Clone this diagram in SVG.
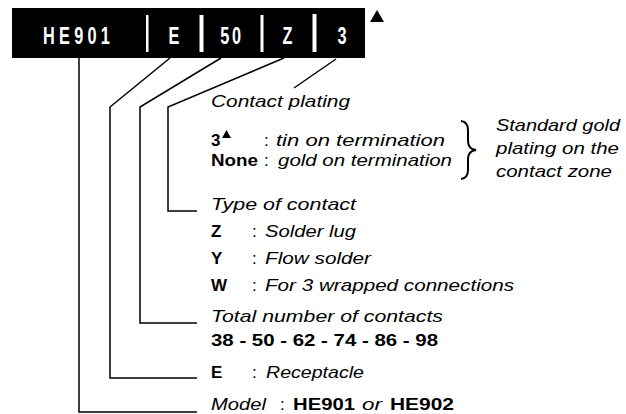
<svg xmlns="http://www.w3.org/2000/svg" width="626" height="414" viewBox="0 0 626 414">
<style>
.t{font-family:"Liberation Sans",Arial,sans-serif;font-size:17px;fill:#000}
.i{font-style:italic}
.b{font-weight:bold}
.bar{font-family:"Liberation Sans",Arial,sans-serif;font-weight:bold;font-size:24px;fill:#fff}
.ln{fill:none;stroke:#000;stroke-width:1.5}
.sep{fill:#fff}
</style>
<rect width="626" height="414" fill="#fff"/>
<g id="code">
  <rect x="12" y="8" width="353" height="50" fill="#000"/>
  <rect class="sep" x="146" y="15" width="2.5" height="37"/>
  <rect class="sep" x="199.5" y="15" width="4" height="37"/>
  <rect class="sep" x="260.5" y="15" width="3" height="37"/>
  <rect class="sep" x="312.5" y="14" width="4" height="38"/>
  <g transform="scale(0.68,1)">
    <text class="bar" x="63.2" y="44.5" textLength="98.5" lengthAdjust="spacing">HE901</text>
    <text class="bar" x="255.9" y="44.5" text-anchor="middle">E</text>
    <text class="bar" x="341.2" y="44.5" text-anchor="middle" letter-spacing="4">50</text>
    <text class="bar" x="422.8" y="44.5" text-anchor="middle">Z</text>
    <text class="bar" x="502.9" y="44.5" text-anchor="middle">3</text>
  </g>
  <polygon points="370,22 384,22 377,10" fill="#000"/>
</g>
<g id="connectors">
  <path class="ln" d="M79,58 V412 H197"/>
  <path class="ln" d="M170,58 L110,107 V378 H197"/>
  <path class="ln" d="M221,58 L140,107 V323 H197"/>
  <path class="ln" d="M284,58 L168,107 V211 H197"/>
  <path class="ln" d="M336,59 L294,88"/>
</g>
<g id="plating">
  <text class="t i" x="211" y="107" textLength="139" lengthAdjust="spacingAndGlyphs">Contact plating</text>
  <text class="t b" x="211" y="146">3</text>
  <polygon points="222,138 231,138 226.5,130" fill="#000"/>
  <text class="t" x="264" y="146">:</text>
  <text class="t i" x="276" y="146" textLength="169" lengthAdjust="spacingAndGlyphs">tin on termination</text>
  <text class="t b" x="211" y="166" textLength="47" lengthAdjust="spacingAndGlyphs">None</text>
  <text class="t" x="264" y="166">:</text>
  <text class="t i" x="278" y="166" textLength="174" lengthAdjust="spacingAndGlyphs">gold on termination</text>
  <path d="M461,121 Q468,122 468,130 V141 Q468,149 476,150 Q468,151 468,159 V170 Q468,178 461,179" fill="none" stroke="#000" stroke-width="2"/>
  <text class="t i" x="496" y="131" textLength="124" lengthAdjust="spacingAndGlyphs">Standard gold</text>
  <text class="t i" x="496" y="154" textLength="123" lengthAdjust="spacingAndGlyphs">plating on the</text>
  <text class="t i" x="496" y="177" textLength="116" lengthAdjust="spacingAndGlyphs">contact zone</text>
</g>
<g id="type">
  <text class="t i" x="211" y="210" textLength="145" lengthAdjust="spacingAndGlyphs">Type of contact</text>
  <text class="t b" x="211" y="237">Z</text>
  <text class="t" x="252" y="237">:</text>
  <text class="t i" x="265" y="237" textLength="91" lengthAdjust="spacingAndGlyphs">Solder lug</text>
  <text class="t b" x="211" y="264">Y</text>
  <text class="t" x="252" y="264">:</text>
  <text class="t i" x="265" y="264" textLength="106" lengthAdjust="spacingAndGlyphs">Flow solder</text>
  <text class="t b" x="211" y="291">W</text>
  <text class="t" x="252" y="291">:</text>
  <text class="t i" x="265" y="291" textLength="249" lengthAdjust="spacingAndGlyphs">For 3 wrapped connections</text>
</g>
<g id="number">
  <text class="t i" x="211" y="322" textLength="232" lengthAdjust="spacingAndGlyphs">Total number of contacts</text>
  <text class="t b" x="211" y="346" textLength="227" lengthAdjust="spacingAndGlyphs">38 - 50 - 62 - 74 - 86 - 98</text>
</g>
<g id="receptacle">
  <text class="t b" x="211" y="378">E</text>
  <text class="t" x="252" y="378">:</text>
  <text class="t i" x="266" y="378" textLength="98" lengthAdjust="spacingAndGlyphs">Receptacle</text>
</g>
<g id="model">
  <text class="t i" x="211" y="410" textLength="55" lengthAdjust="spacingAndGlyphs">Model</text>
  <text class="t" x="280" y="410">:</text>
  <text class="t b" x="293" y="410" textLength="62" lengthAdjust="spacingAndGlyphs">HE901</text>
  <text class="t i" x="362" y="410" textLength="20" lengthAdjust="spacingAndGlyphs">or</text>
  <text class="t b" x="390" y="410" textLength="64" lengthAdjust="spacingAndGlyphs">HE902</text>
</g>
</svg>
